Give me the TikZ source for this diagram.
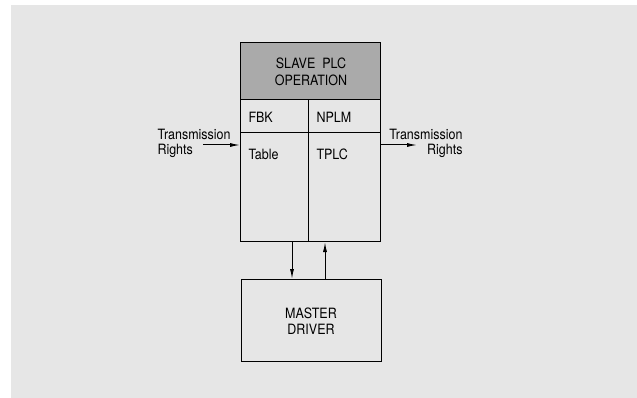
\documentclass[tikz,border=0pt]{standalone}
\usepackage{fontspec}
\setmainfont[FakeStretch=0.88]{TeX Gyre Heros}
\usetikzlibrary{arrows.meta}
\definecolor{bggray}{HTML}{E6E6E6}
\definecolor{headgray}{HTML}{AAAAAA}

\begin{document}
\begin{tikzpicture}[x=1pt,y=-1pt,line width=1pt,
  box/.style={draw,anchor=north west,inner sep=0pt},
  txt/.style={inner sep=0pt,font=\fontsize{14.2}{15.7}\selectfont},
  arr/.style={-{Latex[length=10pt,width=4pt]}}]

% Page and background
\useasboundingbox (0,0) rectangle (637,398);
\fill[bggray] (11,5) rectangle (637,398);

% Slave PLC box
\node[box,minimum width=140pt,minimum height=199pt] (slave) at (240,42) {};
\node[box,fill=headgray,minimum width=140pt,minimum height=57pt] (head) at (240,42) {};
\node[txt,align=center,font=\fontsize{14.2}{16.5}\selectfont] (headtxt)
  at (311,72) {SLAVE\ \ PLC\\OPERATION};

% Dividers
\coordinate (div) at (308,133);
\draw (slave.west |- div) -- (slave.east |- div);
\draw (head.south -| div) -- (slave.south -| div);

% Cell labels
\node[txt,anchor=west] (fbk)   at (248,117.5) {FBK};
\node[txt,anchor=west] (nplm)  at (316,117.5) {NPLM};
\node[txt,anchor=west] (table) at (248,154) {Table};
\node[txt,anchor=west] (tplc)  at (316,154) {TPLC};

% Master driver box
\node[box,minimum width=140pt,minimum height=82pt] (master) at (241,279) {};
\node[txt,align=center] (mastertxt) at (311,321) {MASTER\\DRIVER};

% Transmission rights in and out
\node[txt,anchor=west,align=left]   (rin)  at (157,143.5) {Transmission\\Rights};
\node[txt,anchor=east,align=right]  (rout) at (463,143.5) {Transmission\\Rights};
\coordinate (inL)  at (203,145);
\coordinate (outR) at (417,145);
\draw[arr] (inL) -- (inL -| slave.west);
\draw[arr] (outR -| slave.east) -- (outR);

% Links to master
\coordinate (dn) at (292,0);
\coordinate (up) at (325,0);
\draw[arr] (slave.south -| dn) -- (master.north -| dn);
\draw[arr] (master.north -| up) -- (slave.south -| up);

\end{tikzpicture}
\end{document}
